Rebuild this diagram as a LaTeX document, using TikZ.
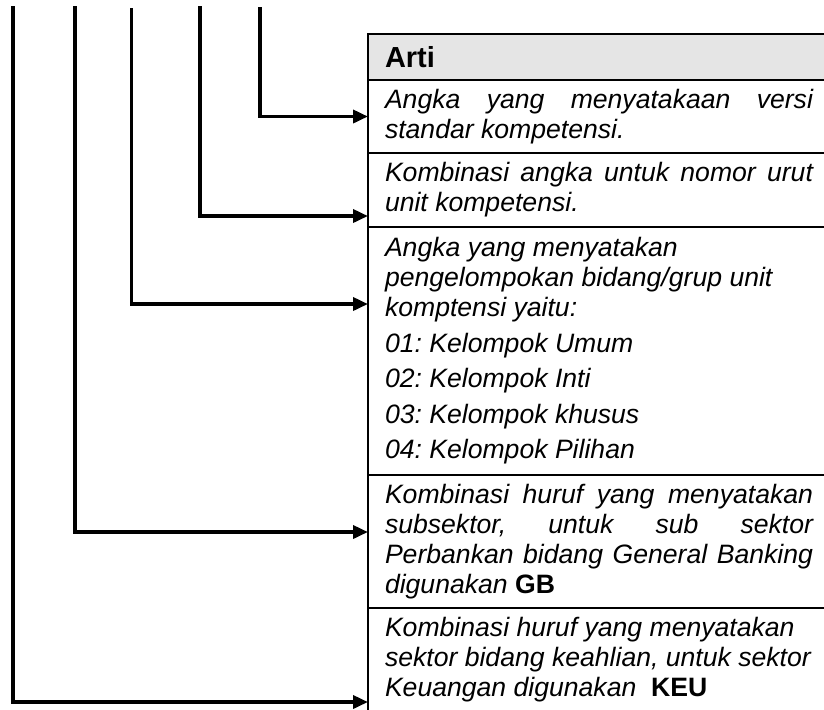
\documentclass[tikz,border=0pt]{standalone}
\usepackage{fontspec}
\setmainfont{Liberation Sans}
\usetikzlibrary{arrows.meta}
\frenchspacing
\tikzset{
  row/.style={draw, line width=1pt, anchor=north west, outer sep=0pt, inner xsep=8.5pt,
    text width=214pt, align=justify, font=\fontsize{13.3}{15}\selectfont\itshape},
  link/.style={line width=1.8pt, -{Triangle[length=7.5pt,width=6.5pt]}}
}

\begin{document}
\begin{tikzpicture}[x=0.5pt, y=-0.5pt]
\useasboundingbox (0,0) rectangle (824,709);
\node[row, fill=gray!20, minimum height=23pt, font=\fontsize{14.5}{15}\selectfont\bfseries] (head) at (368,34) {Arti};
\node[row, minimum height=36.5pt] (r1) at (head.south west) {Angka yang menyatakaan versi\linebreak standar kompetensi.};
\node[row, minimum height=37pt] (r2) at (r1.south west) {Kombinasi angka untuk nomor urut\linebreak unit kompetensi.};
\node[row, minimum height=124pt] (r3) at (r2.south west) {Angka yang menyatakan\\ pengelompokan bidang/grup unit\\ komptensi yaitu:\\[2.75pt] 01: Kelompok Umum\\[2.75pt] 02: Kelompok Inti\\[2.75pt] 03: Kelompok khusus\\[2.75pt] 04: Kelompok Pilihan};
\node[row, minimum height=66.5pt] (r4) at (r3.south west) {Kombinasi huruf yang menyatakan\linebreak subsektor, untuk sub sektor\linebreak Perbankan bidang General Banking\linebreak digunakan \textbf{\upshape GB}};
\node[row, minimum height=52pt] (r5) at (r4.south west) {Kombinasi huruf yang menyatakan\\ sektor bidang keahlian, untuk sektor\\ Keuangan digunakan~ \textbf{\upshape KEU}};
\coordinate (a) at (13,6);
\coordinate (b) at (75,6);
\coordinate (c) at (131.5,8);
\coordinate (d) at (200,6);
\coordinate (e) at (260,7);
\draw[link] (e) |- (r1.west);
\draw[link] (d) |- ([yshift=-13pt]r2.west);
\draw[link] (c) |- ([yshift=23.5pt]r3.west);
\draw[link] (b) |- ([yshift=4.75pt]r4.west);
\draw[link] (a) |- ([yshift=-21pt]r5.west);
\end{tikzpicture}
\end{document}
